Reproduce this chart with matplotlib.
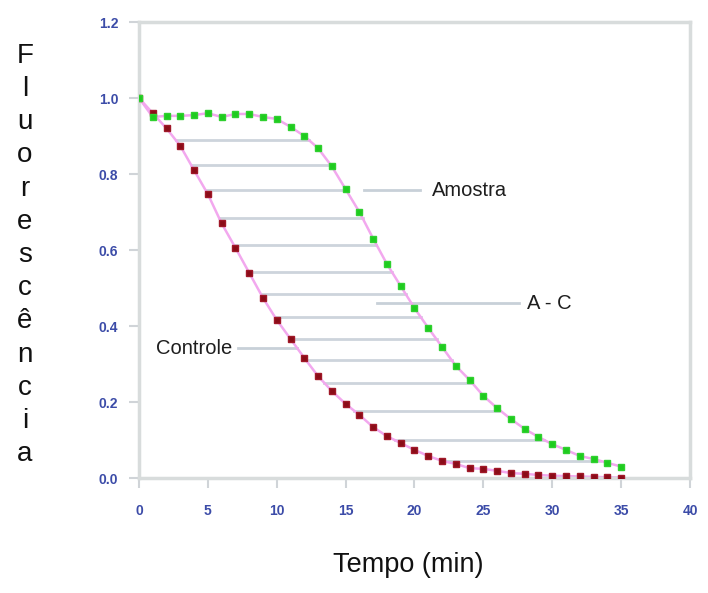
import matplotlib
matplotlib.use("Agg")
import matplotlib.pyplot as plt
import numpy as np

plt.rcParams['font.family'] = ['Liberation Sans', 'DejaVu Sans']

# time in minutes
tempo = list(range(0, 36))

amostra = [1.0, 0.95, 0.953, 0.953, 0.955, 0.96, 0.95, 0.958, 0.958, 0.95,
           0.945, 0.924, 0.90, 0.868, 0.82, 0.76, 0.70, 0.63, 0.563, 0.505,
           0.447, 0.395, 0.345, 0.295, 0.258, 0.216, 0.184, 0.155, 0.129, 0.108,
           0.089, 0.074, 0.058, 0.05, 0.04, 0.03]

controle = [1.0, 0.96, 0.92, 0.874, 0.81, 0.747, 0.67, 0.606, 0.54, 0.474,
            0.416, 0.366, 0.316, 0.268, 0.229, 0.195, 0.166, 0.134, 0.11, 0.092,
            0.074, 0.058, 0.045, 0.037, 0.026, 0.024, 0.019, 0.013, 0.011, 0.008,
            0.006, 0.005, 0.004, 0.003, 0.002, 0.001]

# levels of the horizontal A - C lines
niveis_ac = [0.889, 0.823, 0.757, 0.683, 0.614, 0.542, 0.484, 0.423,
             0.365, 0.310, 0.251, 0.177, 0.10, 0.045]

x_ticks = [0, 5, 10, 15, 20, 25, 30, 35, 40]
y_ticks = [0.0, 0.2, 0.4, 0.6, 0.8, 1.0, 1.2]

fig = plt.figure(figsize=(7.08, 5.93), dpi=100)
ax = fig.add_axes([0.1963, 0.1939, 0.9746 - 0.1963, 0.9629 - 0.1939])

# horizontal difference lines between the two curves
t = np.array(tempo, dtype=float)
c = np.array(controle)
a = np.array(amostra)
for nivel in niveis_ac:
    t_c = np.interp(nivel, c[::-1], t[::-1])
    t_a = np.interp(nivel, a[11:][::-1], t[11:][::-1])
    ax.plot([t_c, t_a], [nivel, nivel], color='#cdd4dc', lw=2, zorder=1)

# callouts
cor_call = '#c8d0d8'
cor_txt = '#1e1e1e'
ax.plot([16.3, 20.4], [0.757, 0.757], color=cor_call, lw=2, zorder=1)
ax.text(21.3, 0.757, 'Amostra', fontsize=14.5, va='center', color=cor_txt)
ax.plot([17.3, 27.6], [0.46, 0.46], color=cor_call, lw=2, zorder=1)
ax.text(28.2, 0.46, 'A - C', fontsize=14.5, va='center', color=cor_txt)
ax.plot([7.2, 11.5], [0.341, 0.341], color=cor_call, lw=2, zorder=1)
ax.text(6.75, 0.341, 'Controle', fontsize=14.5, va='center', ha='right', color=cor_txt)

ax.plot(tempo, controle, color='#f2a8ee', lw=1.8, zorder=2)
ax.plot(tempo, amostra, color='#f2a8ee', lw=1.8, zorder=2)
ax.plot(tempo, controle, ls='none', marker='s', ms=5, color='#8a0c18',
        mec='#a01828', zorder=3)
ax.plot(tempo, amostra, ls='none', marker='s', ms=5, color='#1ecc1e',
        mec='#30d030', zorder=4)

ax.set_xlim(0, 40)
ax.set_ylim(0, 1.2)
ax.set_xticks(x_ticks)
ax.set_yticks(y_ticks)
ax.set_yticklabels(['%.1f' % v for v in y_ticks])

for s in ax.spines.values():
    s.set_color('#d8dcdc')
    s.set_linewidth(2.5)

ax.tick_params(axis='both', colors='#d0d4d8', labelcolor='#3c4ca8',
               labelsize=10, length=7, width=1.5)
ax.tick_params(axis='x', pad=12)
ax.tick_params(axis='y', pad=8)
for lbl in ax.get_xticklabels() + ax.get_yticklabels():
    lbl.set_fontweight('bold')

fig.text(408 / 708, 1 - 565 / 593, 'Tempo (min)', fontsize=19.5,
         ha='center', va='center', color='#111111')
fig.text(25 / 708, 1 - 255 / 593, '\n'.join('Fluorescência'), fontsize=20,
         ha='center', va='center', linespacing=1.36, color='#111111')

fig.savefig('out.png', dpi=100)
